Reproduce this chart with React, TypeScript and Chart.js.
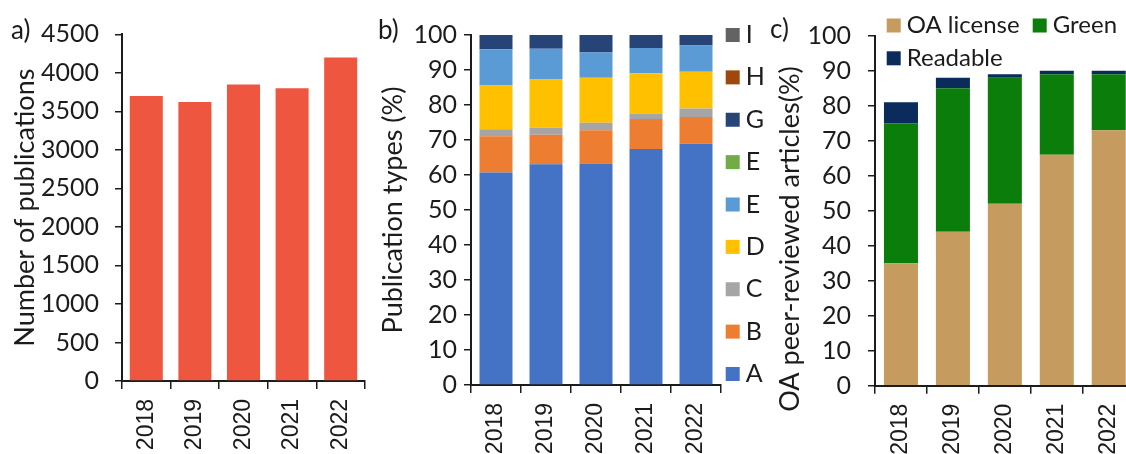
import React, { useEffect, useRef } from 'react';
import { Chart, registerables } from 'chart.js';

Chart.register(...registerables);

// ---------- data ----------
const years = ['2018', '2019', '2020', '2021', '2022'];

const publications = [3700, 3620, 3850, 3800, 4200];

const typeA = [60.7, 63.1, 63.3, 67.4, 68.9];
const typeB = [10.4, 8.4, 9.5, 8.6, 7.7];
const typeC = [2.0, 2.0, 2.1, 1.6, 2.4];
const typeD = [12.5, 13.8, 12.9, 11.5, 10.5];
const typeE = [10.3, 8.8, 7.2, 7.2, 7.5];
const typeEGreen = [0, 0, 0, 0, 0];
const typeG = [4.1, 3.9, 5.0, 3.7, 3.0];
const typeH = [0, 0, 0, 0, 0];
const typeI = [0, 0, 0, 0, 0];

const oaLicense = [35, 44, 52, 66, 73];
const oaGreen = [40, 41, 36, 23, 16];
const oaReadable = [6, 3, 1, 1, 1];

// ---------- style ----------
const INK = '#1c1c1c';
const LATO = 'Lato';
const TICK_FONT = { family: LATO, size: 25 };
const TITLE_FONT = { family: LATO, size: 27 };
const XTICK_FONT = { family: 'Liberation Sans', size: 23 };
const H = 454;

type TextItem = { text: string; x: number; y: number; size: number; rotation?: number; align?: CanvasTextAlign };

function textPlugin(items: TextItem[]) {
  return {
    id: 'panelText',
    afterDraw(chart: any) {
      const ctx = chart.ctx;
      items.forEach((it) => {
        ctx.save();
        ctx.font = `${it.size}px ${LATO}`;
        ctx.fillStyle = INK;
        ctx.translate(it.x, it.y);
        ctx.rotate(it.rotation || 0);
        ctx.textAlign = it.align || 'left';
        ctx.textBaseline = 'middle';
        ctx.fillText(it.text, 0, 0);
        ctx.restore();
      });
    },
  };
}

type LegendItem = { dataset: number; x: number; y: number };

function legendPlugin(items: LegendItem[], box: number, gap: number, size: number) {
  return {
    id: 'boxLegend',
    afterDraw(chart: any) {
      const ctx = chart.ctx;
      items.forEach((it) => {
        const ds = chart.data.datasets[it.dataset];
        ctx.save();
        ctx.fillStyle = ds.backgroundColor;
        ctx.fillRect(it.x, it.y - box / 2, box, box);
        ctx.fillStyle = INK;
        ctx.font = `${size}px ${LATO}`;
        ctx.textAlign = 'left';
        ctx.textBaseline = 'middle';
        ctx.fillText(ds.label, it.x + box + gap, it.y);
        ctx.restore();
      });
    },
  };
}

function xScale(height: number, stacked: boolean) {
  return {
    type: 'category',
    stacked,
    afterFit: (s: any) => {
      s.height = height;
    },
    border: { display: true, color: INK, width: 2 },
    grid: { display: true, drawOnChartArea: false, drawTicks: true, tickLength: 8, color: INK, lineWidth: 1.5, offset: true },
    ticks: { color: INK, font: XTICK_FONT, minRotation: 90, maxRotation: 90, autoSkip: false, padding: 10 },
  };
}

function yScale(max: number, step: number, width: number, pad: number, stacked: boolean, title?: { text: string; pad: number }) {
  return {
    type: 'linear',
    stacked,
    min: 0,
    max,
    afterFit: (s: any) => {
      s.width = width;
    },
    border: { display: true, color: INK, width: 2 },
    grid: { display: true, drawOnChartArea: false, drawTicks: true, tickLength: 7, color: INK, lineWidth: 1.5 },
    ticks: { stepSize: step, color: INK, font: TICK_FONT, padding: pad, callback: (v: any) => String(v) },
    title: title
      ? { display: true, text: title.text, color: INK, font: TITLE_FONT, padding: { top: title.pad, bottom: 0 } }
      : { display: false },
  };
}

function configA() {
  return {
    type: 'bar',
    data: {
      labels: years,
      datasets: [
        { label: 'Number of publications', data: publications, backgroundColor: '#ef5640', barPercentage: 0.68, categoryPercentage: 1 },
      ],
    },
    options: {
      responsive: false,
      animation: false,
      layout: { padding: { top: 34.3, right: 15, left: 0, bottom: 0 } },
      plugins: { legend: { display: false }, tooltip: { enabled: false } },
      scales: {
        x: xScale(H - 381, false),
        y: yScale(4500, 500, 122, 16, false, { text: 'Number of publications', pad: 8.8 }),
      },
    },
    plugins: [textPlugin([{ text: 'a)', x: 11, y: 31, size: 26 }])],
  };
}

function configB() {
  const mk = (label: string, data: number[], color: string) => ({
    label,
    data,
    backgroundColor: color,
    barPercentage: 0.66,
    categoryPercentage: 1,
  });
  const datasets = [
    mk('A', typeA, '#4472c4'),
    mk('B', typeB, '#ed7d31'),
    mk('C', typeC, '#a5a5a5'),
    mk('D', typeD, '#ffc000'),
    mk('E', typeE, '#5b9bd5'),
    mk('E', typeEGreen, '#70ad47'),
    mk('G', typeG, '#264478'),
    mk('H', typeH, '#9e480e'),
    mk('I', typeI, '#636363'),
  ];
  const step = (374 - 35) / 8;
  const legendItems: LegendItem[] = [8, 7, 6, 5, 4, 3, 2, 1, 0].map((d, i) => ({ dataset: d, x: 355.7, y: 35 + i * step }));
  return {
    type: 'bar',
    data: { labels: years, datasets },
    options: {
      responsive: false,
      animation: false,
      layout: { padding: { top: 35, right: 49, left: 0, bottom: 0 } },
      plugins: { legend: { display: false }, tooltip: { enabled: false } },
      scales: {
        x: xScale(H - 385, true),
        y: yScale(100, 10, 101, 7, true, { text: 'Publication types (%)', pad: 6.8 }),
      },
    },
    plugins: [textPlugin([{ text: 'b)', x: 8, y: 31, size: 26 }]), legendPlugin(legendItems, 14, 6, 25)],
  };
}

function configC() {
  const mk = (label: string, data: number[], color: string) => ({
    label,
    data,
    backgroundColor: color,
    barPercentage: 0.655,
    categoryPercentage: 1,
  });
  const datasets = [
    mk('OA license', oaLicense, '#c59b5f'),
    mk('Green', oaGreen, '#0a7d0a'),
    mk('Readable', oaReadable, '#0b2b5c'),
  ];
  const legendItems: LegendItem[] = [
    { dataset: 0, x: 126.7, y: 25.5 },
    { dataset: 1, x: 272.7, y: 25.5 },
    { dataset: 2, x: 126.7, y: 58.3 },
  ];
  return {
    type: 'bar',
    data: { labels: years, datasets },
    options: {
      responsive: false,
      animation: false,
      layout: { padding: { top: 35.7, right: 25.3, left: 0, bottom: 0 } },
      plugins: { legend: { display: false }, tooltip: { enabled: false } },
      scales: {
        x: xScale(H - 385.7, true),
        y: yScale(100, 10, 115, 17, true),
      },
    },
    plugins: [
      textPlugin([
        { text: 'c)', x: 10, y: 30, size: 26 },
        { text: 'OA peer-reviewed articles(%)', x: 30, y: 239, size: 27, rotation: -Math.PI / 2, align: 'center' },
      ]),
      legendPlugin(legendItems, 14, 6, 24),
    ],
  };
}

function Panel({ left, width, make }: { left: number; width: number; make: () => any }) {
  const ref = useRef<HTMLCanvasElement>(null);
  useEffect(() => {
    const chart = new Chart(ref.current as HTMLCanvasElement, make());
    return () => chart.destroy();
  }, []);
  return (
    <canvas
      ref={ref}
      width={width}
      height={H}
      style={{ position: 'absolute', left, top: 0, width, height: H }}
    />
  );
}

export default function App() {
  return (
    <div
      style={{
        position: 'fixed',
        left: 0,
        top: 0,
        width: 1126,
        height: H,
        overflow: 'hidden',
        background: '#ffffff',
      }}
    >
      <Panel left={0} width={380} make={configA} />
      <Panel left={370} width={400} make={configB} />
      <Panel left={760} width={400} make={configC} />
    </div>
  );
}
